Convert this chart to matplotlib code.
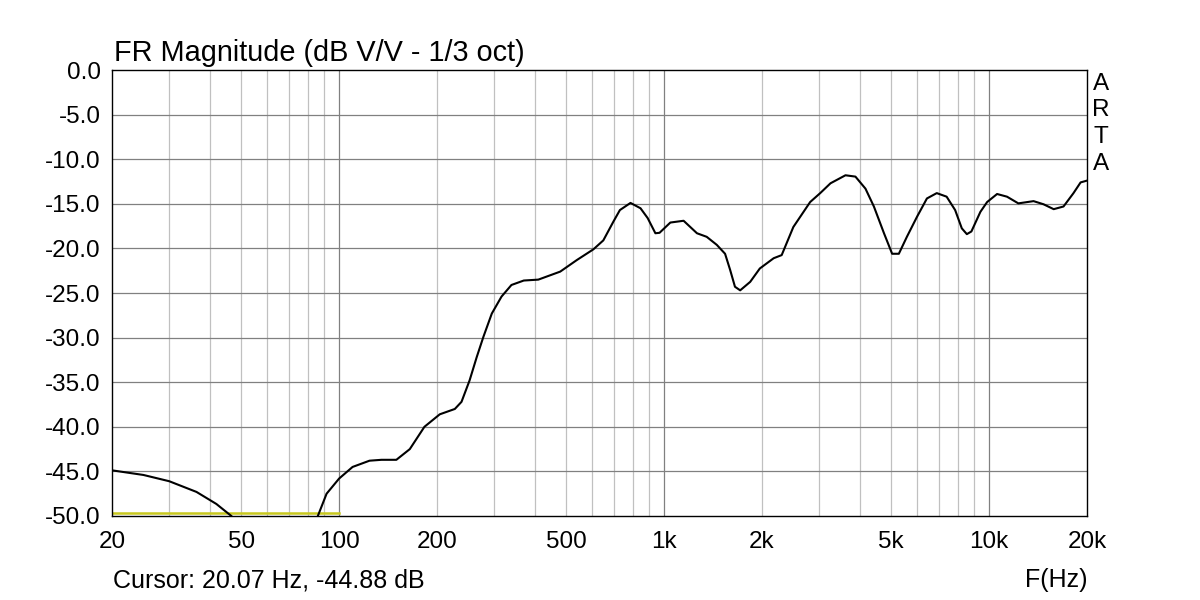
import numpy as np
import matplotlib
matplotlib.use('Agg')
import matplotlib.pyplot as plt
from matplotlib.ticker import FixedLocator, NullFormatter

plt.rcParams['font.family'] = ['Liberation Sans', 'DejaVu Sans']

# frequency response (Hz, dB)
freq = [20, 25, 30, 36.4, 41.9, 46.6, 52, 60, 70, 80, 86, 91.5, 100, 110,
        124, 135, 150, 165, 183, 204, 227, 238, 252, 265, 278, 295, 316, 339,
        370, 410, 479, 539, 606, 650, 698, 731, 788, 846, 890, 940, 968,
        1045, 1148, 1262, 1352, 1452, 1540, 1596, 1652, 1714, 1840, 1970,
        2173, 2300, 2498, 2814, 3022, 3250, 3614, 3878, 4164, 4420, 4748,
        5030, 5275, 5584, 6000, 6436, 6900, 7400, 7860, 8240, 8540, 8820,
        9400, 9860, 10580, 11350, 12300, 13700, 14700, 15800, 16940, 18180,
        19120, 20000]
mag = [-44.88, -45.4, -46.1, -47.3, -48.65, -50.0, -51.8, -54.0, -55.0,
       -53.0, -50.0, -47.5, -45.8, -44.5, -43.8, -43.7, -43.7, -42.5, -40.0,
       -38.6, -38.0, -37.2, -34.8, -32.2, -29.9, -27.3, -25.4, -24.1, -23.6,
       -23.5, -22.6, -21.3, -20.1, -19.1, -17.0, -15.7, -14.9, -15.5, -16.6,
       -18.3, -18.25, -17.1, -16.9, -18.3, -18.7, -19.6, -20.6, -22.4, -24.3,
       -24.7, -23.75, -22.25, -21.1, -20.75, -17.6, -14.8, -13.8, -12.7,
       -11.8, -11.95, -13.3, -15.3, -18.3, -20.6, -20.6, -18.7, -16.45,
       -14.4, -13.8, -14.2, -15.7, -17.75, -18.4, -18.1, -15.9, -14.8, -13.9,
       -14.2, -14.95, -14.7, -15.05, -15.6, -15.3, -13.8, -12.6, -12.4]

# yellow reference segment (low range marker)
ref_freq = [20, 100]
ref_mag = [-49.7, -49.7]

xticks = [20, 50, 100, 200, 500, 1000, 2000, 5000, 10000, 20000]
xticklabels = ['20', '50', '100', '200', '500', '1k', '2k', '5k', '10k', '20k']
yticks = np.arange(0, -55, -5)

minor_x = [m * d for d in (10, 100, 1000, 10000) for m in range(2, 10)
           if 20 < m * d < 20000]
major_x = [100, 1000, 10000]

fig = plt.figure(figsize=(12, 6), dpi=100)
ax = fig.add_axes([0.0933, 0.14, 0.8125, 0.7433])

ax.set_xscale('log')
ax.set_xlim(20, 20000)
ax.set_ylim(-50, 0)

for f in minor_x:
    if f not in major_x:
        ax.axvline(f, color='#c0c0c0', lw=0.9, zorder=1)
for f in major_x:
    ax.axvline(f, color='#808080', lw=0.9, zorder=1)
for y in yticks[1:-1]:
    ax.axhline(y, color='#808080', lw=0.9, zorder=1)

ax.plot(ref_freq, ref_mag, color='#c8c81e', lw=1.8, zorder=2)
ax.plot(freq, mag, color='black', lw=1.5, zorder=3,
        solid_joinstyle='round')

ax.xaxis.set_major_locator(FixedLocator(xticks))
ax.set_xticklabels(xticklabels)
ax.xaxis.set_minor_formatter(NullFormatter())
ax.xaxis.set_minor_locator(FixedLocator([]))
ax.set_yticks(yticks)
ax.set_yticklabels([f'{v:.1f}' for v in yticks])
ax.tick_params(axis='both', length=0, labelsize=17.5, colors='black')
ax.tick_params(axis='x', pad=11)
ax.tick_params(axis='y', pad=8)

for s in ax.spines.values():
    s.set_color('black')
    s.set_linewidth(1.0)

fig.text(0.095, 0.889, 'FR Magnitude (dB V/V - 1/3 oct)', fontsize=20.8,
         ha='left', va='bottom')
fig.text(0.094, 0.033, 'Cursor: 20.07 Hz, -44.88 dB', fontsize=18,
         ha='left', va='center')
fig.text(0.906, 0.033, 'F(Hz)', fontsize=18, ha='right', va='center')
for i, ch in enumerate('ARTA'):
    fig.text(0.9175, 1 - (84 + i * 26.5) / 600, ch, fontsize=17.5,
             ha='center', va='center')

fig.savefig('out.png', dpi=100)
